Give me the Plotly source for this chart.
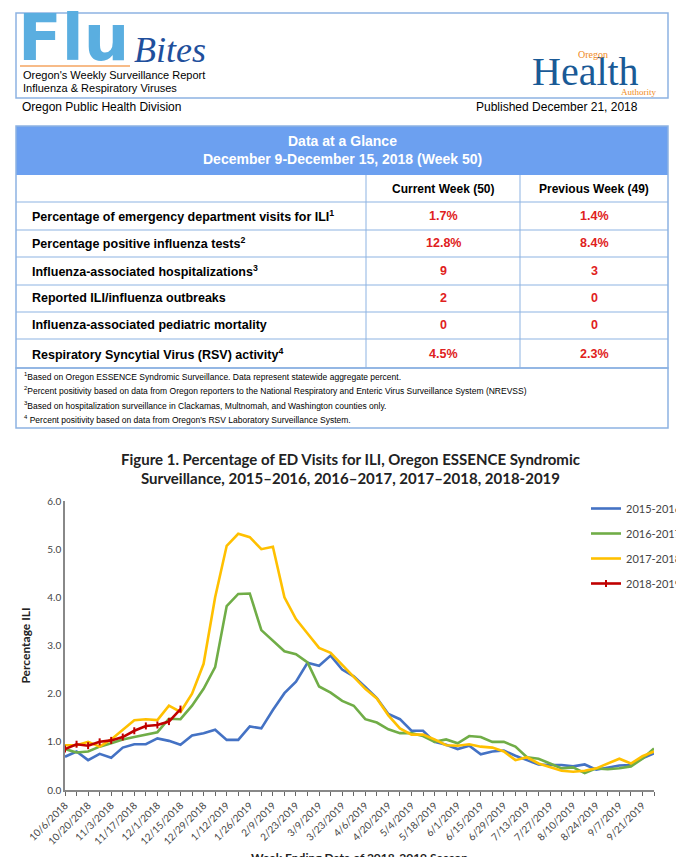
import pandas as pd
import plotly.graph_objects as go

# weekly season axis, week ending dates
weeks = pd.date_range('2018-10-06', periods=52, freq='7D')
week_labels = [f'{d.month}/{d.day}/{d.year}' for d in weeks]

ili_2015 = [0.69, 0.80, 0.62, 0.75, 0.67, 0.88, 0.95, 0.95, 1.07, 1.02, 0.94, 1.13, 1.18, 1.25,
            1.04, 1.04, 1.32, 1.28, 1.66, 2.01, 2.25, 2.64, 2.58, 2.79, 2.50, 2.36, 2.14, 1.91,
            1.58, 1.47, 1.23, 1.23, 1.00, 0.94, 0.85, 0.92, 0.74, 0.80, 0.82, 0.71, 0.62, 0.53,
            0.52, 0.52, 0.49, 0.53, 0.42, 0.46, 0.51, 0.52, 0.66, 0.76]
ili_2016 = [0.85, 0.78, 0.80, 0.90, 0.97, 1.05, 1.10, 1.15, 1.20, 1.48, 1.47, 1.75, 2.10, 2.55,
            3.82, 4.07, 4.08, 3.32, 3.10, 2.88, 2.82, 2.65, 2.15, 2.02, 1.85, 1.75, 1.47, 1.40,
            1.26, 1.18, 1.18, 1.12, 1.00, 1.05, 0.97, 1.12, 1.10, 1.00, 1.00, 0.90, 0.68, 0.65,
            0.55, 0.45, 0.47, 0.35, 0.45, 0.43, 0.45, 0.49, 0.65, 0.86]
ili_2017 = [0.93, 0.93, 1.00, 0.90, 1.05, 1.25, 1.45, 1.47, 1.45, 1.75, 1.62, 2.00, 2.62, 4.00,
            5.07, 5.32, 5.25, 5.00, 5.05, 4.00, 3.55, 3.25, 2.95, 2.85, 2.60, 2.35, 2.10, 1.90,
            1.55, 1.28, 1.15, 1.15, 1.05, 0.93, 0.92, 0.95, 0.90, 0.88, 0.80, 0.62, 0.68, 0.55,
            0.48, 0.40, 0.38, 0.40, 0.45, 0.55, 0.65, 0.55, 0.70, 0.80]
ili_2018 = [0.85, 0.95, 0.92, 1.00, 1.03, 1.10, 1.23, 1.33, 1.35, 1.42, 1.68]

row_labels = ['Percentage of emergency department visits for ILI<sup>1</sup>',
              'Percentage positive influenza tests<sup>2</sup>',
              'Influenza-associated hospitalizations<sup>3</sup>',
              'Reported ILI/influenza outbreaks',
              'Influenza-associated pediatric mortality',
              'Respiratory Syncytial Virus (RSV) activity<sup>4</sup>']
current_week = ['1.7%', '12.8%', '9', '2', '0', '4.5%']
previous_week = ['1.4%', '8.4%', '3', '0', '0', '2.3%']
footnotes = ['<sup>1</sup>Based on Oregon ESSENCE Syndromic Surveillance. Data represent statewide aggregate percent.',
             '<sup>2</sup>Percent positivity based on data from Oregon reporters to the National Respiratory and Enteric Virus Surveillance System (NREVSS)',
             '<sup>3</sup>Based on hospitalization surveillance in Clackamas, Multnomah, and Washington counties only.',
             '<sup>4</sup> Percent positivity based on data from Oregon\'s RSV Laboratory Surveillance System.']

W, H = 684, 857
BORDER = '#8db3e2'
x_idx = list(range(len(week_labels)))

fig = go.Figure()
series = [('2015-2016', ili_2015, '#4472c4'), ('2016-2017', ili_2016, '#70ad47'),
          ('2017-2018', ili_2017, '#ffc000')]
for i, (name, vals, col) in enumerate(series):
    fig.add_trace(go.Scatter(x=x_idx[:len(vals)], y=vals, name=name, mode='lines',
                             line=dict(color=col, width=2.6), legendgroup=str(i)))
fig.add_trace(go.Scatter(x=x_idx[:len(ili_2018)], y=ili_2018, name='2018-2019', mode='lines+markers',
                         line=dict(color='#c00000', width=2.6), legendgroup='3',
                         marker=dict(symbol='line-ns', size=5, line=dict(color='#c00000', width=2))))


def px(x):
    return x / W


def py(y):
    return 1 - y / H


shapes = []
ann = []


def rect(x0, y0, x1, y1, **kw):
    shapes.append(dict(type='rect', xref='paper', yref='paper', x0=px(x0), x1=px(x1),
                       y0=py(y1), y1=py(y0), **kw))


def line(x0, y0, x1, y1, color=BORDER, width=1):
    shapes.append(dict(type='line', xref='paper', yref='paper', x0=px(x0), x1=px(x1),
                       y0=py(y0), y1=py(y1), line=dict(color=color, width=width)))


def text(x, y, s, size=12, color='black', xanchor='left', family='Liberation Sans', bold=False):
    if bold:
        s = f'<b>{s}</b>'
    ann.append(dict(xref='paper', yref='paper', x=px(x), y=py(y), text=s, showarrow=False,
                    xanchor=xanchor, yanchor='middle', font=dict(size=size, color=color, family=family)))


# header
rect(8, 5, 660, 90, line=dict(color=BORDER, width=1.5))
text(8, 30, 'Flu', size=64, color='#5aaee0', family='DejaVu Sans', bold=True)
text(124, 42, '<i>Bites</i>', size=36, color='#1f4f9c', family='Liberation Serif')
line(12, 58, 122, 58, color='#f4a460', width=1.5)
text(13, 67, "Oregon's Weekly Surveillance Report", size=11)
text(13, 80, 'Influenza & Respiratory Viruses', size=11)
text(522, 64, 'Health', size=40, color='#1a5a96', family='Liberation Serif')
text(568, 47, 'Oregon', size=10, color='#f08a24', family='Liberation Serif')
text(650, 84, 'Authority', size=9, color='#f08a24', family='Liberation Serif', xanchor='right')
text(12, 99, 'Oregon Public Health Division', size=12)
text(632, 99, 'Published December 21, 2018', size=12, xanchor='right')

# table
rect(8, 118, 660, 167, fillcolor='#6ca0f0', line=dict(width=0))
text(334, 133, 'Data at a Glance', size=14, color='white', xanchor='center', bold=True)
text(334, 151, 'December 9-December 15, 2018 (Week 50)', size=14, color='white', xanchor='center', bold=True)
rect(8, 118, 660, 360, line=dict(color=BORDER, width=1.5))
line(358, 167, 358, 360)
line(512, 167, 512, 360)
row_y = [167, 194, 222, 249, 277, 304, 331, 360]
for yy in row_y[1:-1]:
    line(8, yy, 660, yy)
text(435, 181, 'Current Week (50)', size=12, xanchor='center', bold=True)
text(586, 181, 'Previous Week (49)', size=12, xanchor='center', bold=True)
for i, lab in enumerate(row_labels):
    yc = (row_y[i + 1] + row_y[i + 2]) / 2
    text(22, yc, lab, size=12.5, bold=True)
    text(435, yc, current_week[i], size=12.5, color='#e02020', xanchor='center', bold=True)
    text(586, yc, previous_week[i], size=12.5, color='#e02020', xanchor='center', bold=True)
rect(8, 360, 660, 420, line=dict(color=BORDER, width=1.5))
for i, f in enumerate(footnotes):
    text(14, 368 + i * 14.5, f, size=8.5)

# chart title
text(342, 451, 'Figure 1. Percentage of ED Visits for ILI, Oregon ESSENCE Syndromic',
     size=15, color='#222', xanchor='center', family='Lato', bold=True)
text(342, 470, 'Surveillance, 2015–2016, 2016–2017, 2017–2018, 2018-2019',
     size=15, color='#222', xanchor='center', family='Lato', bold=True)

fig.update_layout(
    width=W, height=H, margin=dict(l=0, r=0, t=0, b=0, autoexpand=False),
    paper_bgcolor='white', plot_bgcolor='white',
    shapes=shapes, annotations=ann,
    font=dict(family='Lato', color='#333', size=11),
    legend=dict(x=px(578), y=py(486), xanchor='left', yanchor='top', traceorder='grouped',
                tracegroupgap=6, font=dict(size=11, color='#444'), bgcolor='rgba(0,0,0,0)'),
    xaxis=dict(domain=[px(57), px(646)], range=[0, 51], tickmode='array', automargin=False,
               tickvals=x_idx[::2], ticktext=week_labels[::2], tickangle=-45,
               ticks='outside', ticklen=4, tickcolor='#666', showline=True, linecolor='#888',
               linewidth=1.5, showgrid=False, zeroline=False, tickfont=dict(size=10, color='#444'),
               minor=dict(dtick=1, tick0=0, ticks='outside', ticklen=4, tickcolor='#666'),
               title=dict(text='<b>Week Ending Date of 2018-2019 Season</b>', font=dict(size=12, color='#222'),
                          standoff=8)),
    yaxis=dict(domain=[py(782), py(493)], range=[0, 6], dtick=1, tickformat='.1f', automargin=False,
               showline=True, linecolor='#888', linewidth=1.5, showgrid=False, zeroline=False,
               tickfont=dict(size=10, color='#444'), ticks='',
               title=dict(text='<b>Percentage ILI</b>', font=dict(size=12, color='#222'), standoff=14)),
)

fig.write_html('out.html')
